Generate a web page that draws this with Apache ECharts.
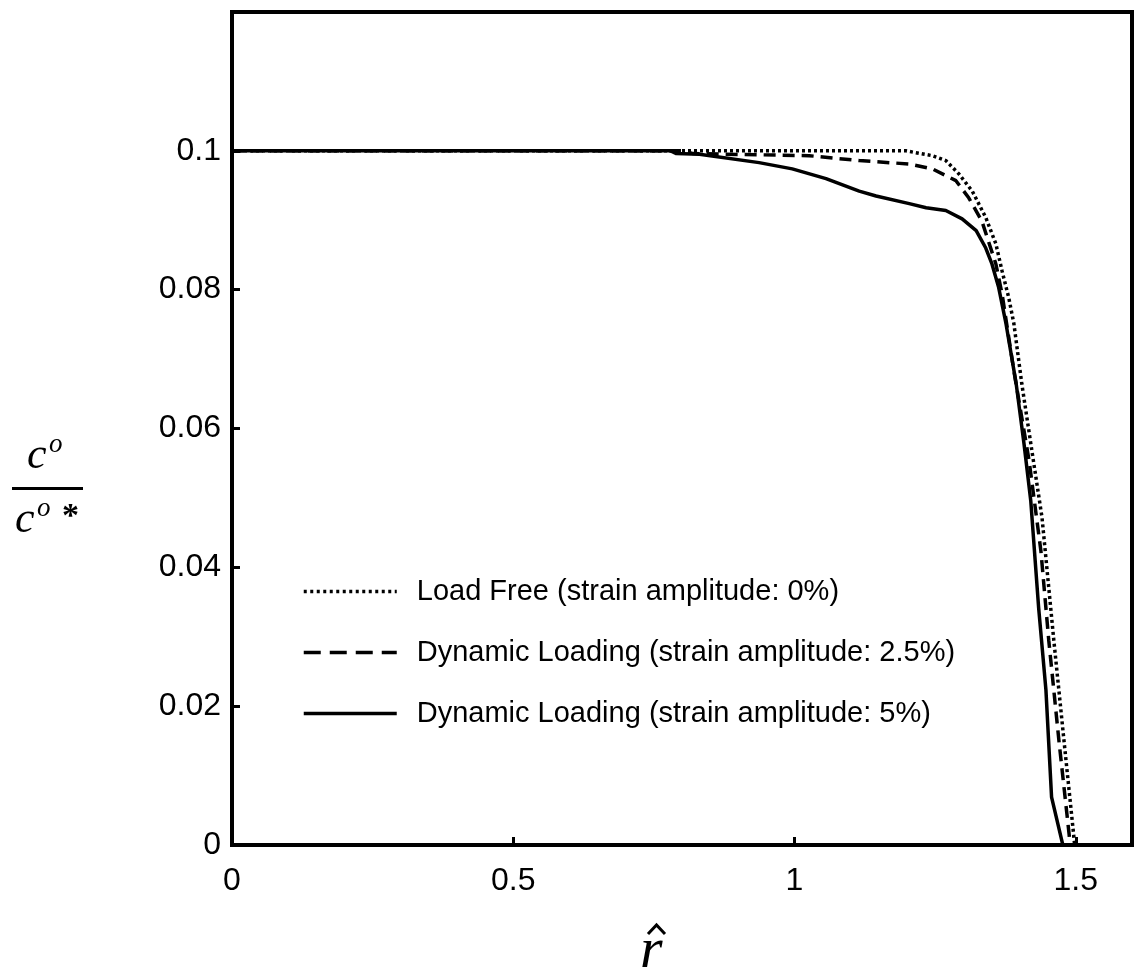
<!DOCTYPE html>
<html>
<head>
<meta charset="utf-8">
<script src="https://cdn.jsdelivr.net/npm/echarts@6/dist/echarts.min.js"></script>
<style>
  html, body { margin: 0; padding: 0; background: #fff; }
  #main { width: 1135px; height: 971px; }
</style>
</head>
<body>
<div id="main"></div>
<script>
    // series names
    var names = [
        'Load Free (strain amplitude: 0%)',
        'Dynamic Loading (strain amplitude: 2.5%)',
        'Dynamic Loading (strain amplitude: 5%)'
    ];

    // [r_hat, c/c*]
    var loadFree = [
        [0, 0.1], [0.8, 0.1], [1.198, 0.1], [1.245, 0.0993], [1.269, 0.0986],
        [1.292, 0.0967], [1.316, 0.0942], [1.340, 0.0904], [1.358, 0.0866],
        [1.369, 0.0827], [1.381, 0.0788], [1.390, 0.0751], [1.404, 0.0665],
        [1.422, 0.0568], [1.440, 0.0472], [1.461, 0.0295], [1.479, 0.0151],
        [1.496, 0.0017], [1.498, 0]
    ];
    var dyn25 = [
        [0, 0.1], [0.8, 0.1], [0.82, 0.0996], [1.026, 0.0993], [1.115, 0.0986],
        [1.204, 0.0981], [1.245, 0.0974], [1.287, 0.0957], [1.310, 0.0932],
        [1.333, 0.0899], [1.358, 0.0837], [1.369, 0.0794], [1.390, 0.0683],
        [1.417, 0.0554], [1.438, 0.0424], [1.452, 0.0295], [1.470, 0.0151],
        [1.488, 0.0017], [1.490, 0]
    ];
    var dyn5 = [
        [0, 0.1], [0.78, 0.1], [0.79, 0.0996], [0.831, 0.0995], [0.937, 0.0983],
        [0.996, 0.0974], [1.056, 0.0960], [1.115, 0.0942], [1.145, 0.0935],
        [1.204, 0.0924], [1.234, 0.0918], [1.269, 0.0914], [1.298, 0.0902],
        [1.323, 0.0885], [1.340, 0.0860], [1.351, 0.0837], [1.363, 0.0803],
        [1.376, 0.0751], [1.394, 0.0665], [1.408, 0.0578], [1.420, 0.0496],
        [1.434, 0.0342], [1.447, 0.0223], [1.457, 0.0069], [1.475, 0.0007],
        [1.477, 0]
    ];

    var xTicks = [0, 0.5, 1, 1.5];
    var yTicks = [0, 0.02, 0.04, 0.06, 0.08, 0.1];

    var chart = echarts.init(document.getElementById('main'), null, { renderer: 'canvas' });

    var lineTypes = [[3, 3], [12, 7], 'solid'];
    var legendTypes = [[3, 3.5], [17, 9], 'solid'];
    var datas = [loadFree, dyn25, dyn5];
    var serif = 'Liberation Serif, Times New Roman, serif';

    var option = {
        backgroundColor: '#fff',
        animation: false,
        textStyle: { fontFamily: 'Liberation Sans, Arial, sans-serif' },
        grid: {
            left: 232, top: 12, right: 3, bottom: 126,
            show: true, borderColor: '#000', borderWidth: 4,
            containLabel: false
        },
        legend: {
            orient: 'vertical',
            left: 297, top: 572,
            itemWidth: 93, itemHeight: 20, itemGap: 32,
            data: names.map(function (n, i) {
                return { name: n, lineStyle: { type: legendTypes[i], width: 3.5, color: '#000' } };
            }),
            itemStyle: { opacity: 0 },
            textStyle: { fontSize: 29, color: '#000', padding: [0, 0, 0, 15] },
            selectedMode: false
        },
        xAxis: {
            type: 'value', min: 0, max: 1.6, interval: 0.5,
            axisLine: { show: false },
            axisTick: { show: true, inside: true, length: 8, lineStyle: { color: '#000', width: 3 } },
            splitLine: { show: false },
            axisLabel: {
                fontSize: 32, color: '#000', margin: 20,
                formatter: function (v) { return xTicks.indexOf(v) >= 0 ? String(v) : ''; }
            }
        },
        yAxis: {
            type: 'value', min: 0, max: 0.12, interval: 0.02,
            axisLine: { show: false },
            axisTick: { show: true, inside: true, length: 8, lineStyle: { color: '#000', width: 3 } },
            splitLine: { show: false },
            axisLabel: {
                fontSize: 32, color: '#000', margin: 11,
                formatter: function (v) {
                    var r = Math.round(v * 100) / 100;
                    return yTicks.indexOf(r) >= 0 ? String(r) : '';
                }
            }
        },
        graphic: [
            // y axis name: c^o / c^o *
            { type: 'text', left: 27, top: 434, style: { text: 'c', font: 'italic 44px ' + serif, fill: '#000' } },
            { type: 'text', left: 49, top: 431, style: { text: 'o', font: 'italic 27px ' + serif, fill: '#000' } },
            { type: 'rect', shape: { x: 12, y: 487, width: 71, height: 3 }, style: { fill: '#000' } },
            { type: 'text', left: 15, top: 498, style: { text: 'c', font: 'italic 44px ' + serif, fill: '#000' } },
            { type: 'text', left: 37, top: 495, style: { text: 'o', font: 'italic 27px ' + serif, fill: '#000' } },
            { type: 'text', left: 62, top: 500, style: { text: '*', font: 'bold 34px ' + serif, fill: '#000' } },
            // x axis name: r hat
            { type: 'text', left: 640, top: 923, style: { text: 'r', font: 'italic 58px ' + serif, fill: '#000' } },
            {
                type: 'polyline', shape: { points: [[648, 934], [656.5, 925], [665, 934]] },
                style: { stroke: '#000', lineWidth: 3, fill: null }
            }
        ],
        series: names.map(function (n, i) {
            return {
                name: n,
                type: 'line',
                data: datas[i],
                symbol: 'none',
                smooth: false,
                z: 10 - i,
                lineStyle: { color: '#000', width: 3.5, type: lineTypes[i] },
                itemStyle: { color: '#000' }
            };
        })
    };

    chart.setOption(option);
</script>
</body>
</html>
